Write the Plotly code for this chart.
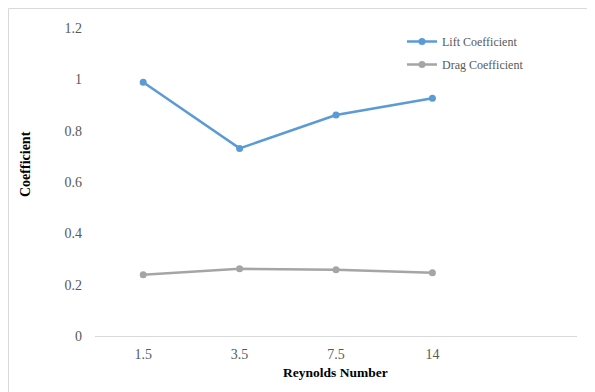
import plotly.graph_objects as go

categories = ["1.5", "3.5", "7.5", "14"]
lift = [0.989, 0.731, 0.861, 0.926]
drag = [0.239, 0.262, 0.258, 0.246]
y_ticks = [0, 0.2, 0.4, 0.6, 0.8, 1, 1.2]
y_tick_text = ["0", "0.2", "0.4", "0.6", "0.8", "1", "1.2"]

OFF = 8  # page body margin
W, H = 595, 392
L, T = 95 - OFF, 28 - OFF
R = W - (577 - OFF)
B = H - (336 - OFF)
pw, ph = W - L - R, H - T - B

def px(xp):
    return (xp - OFF - L) / pw

def py(yp):
    return (H - B - (yp - OFF)) / ph

font_family = "Liberation Serif, Times New Roman, serif"
idx = list(range(len(categories)))

fig = go.Figure()
fig.add_trace(go.Scatter(x=idx, y=lift, mode="lines+markers", name="Lift Coefficient",
                         legendgroup="lift",
                         line=dict(color="#5B9BD5", width=2.5),
                         marker=dict(color="#5B9BD5", size=7)))
fig.add_trace(go.Scatter(x=idx, y=drag, mode="lines+markers", name="Drag Coefficient",
                         legendgroup="drag",
                         line=dict(color="#A5A5A5", width=2.5),
                         marker=dict(color="#A5A5A5", size=7)))

fig.update_layout(
    width=W, height=H,
    margin=dict(l=L, r=R, t=T, b=B, pad=0),
    paper_bgcolor="white", plot_bgcolor="white",
    font=dict(family=font_family, color="#595959"),
    showlegend=True,
    legend=dict(x=px(402), y=py(27), xanchor="left", yanchor="top",
                font=dict(size=12, color="#595959", family=font_family),
                bgcolor="rgba(0,0,0,0)", tracegroupgap=4, itemwidth=30),
    xaxis=dict(range=[-0.5, 4.5], tickmode="array", tickvals=idx, ticktext=categories,
               showgrid=False, zeroline=False, showline=True, linecolor="#D9D9D9", linewidth=1,
               ticks="", ticklabelstandoff=5,
               tickfont=dict(size=14, color="#595959", family=font_family)),
    yaxis=dict(range=[0, 1.2], tickmode="array", tickvals=y_ticks, ticktext=y_tick_text,
               showgrid=False, zeroline=False, showline=False, ticks="", ticklabelstandoff=12,
               tickfont=dict(size=14, color="#595959", family=font_family)),
    annotations=[
        dict(text="<b>Reynolds Number</b>", x=px(335.5), y=py(372), xref="paper", yref="paper",
             xanchor="center", yanchor="middle", showarrow=False,
             font=dict(size=13.5, color="black", family=font_family)),
        dict(text="<b>Coefficient</b>", x=px(25), y=py(164), xref="paper", yref="paper",
             xanchor="center", yanchor="middle", showarrow=False, textangle=-90,
             font=dict(size=14, color="black", family=font_family)),
    ],
    shapes=[
        dict(type="rect", xref="paper", yref="paper",
             x0=px(8.5), y0=py(420), x1=px(640), y1=py(8.5),
             line=dict(color="#D9D9D9", width=1), fillcolor="rgba(0,0,0,0)", layer="below"),
    ],
)

fig.write_html("out.html")
